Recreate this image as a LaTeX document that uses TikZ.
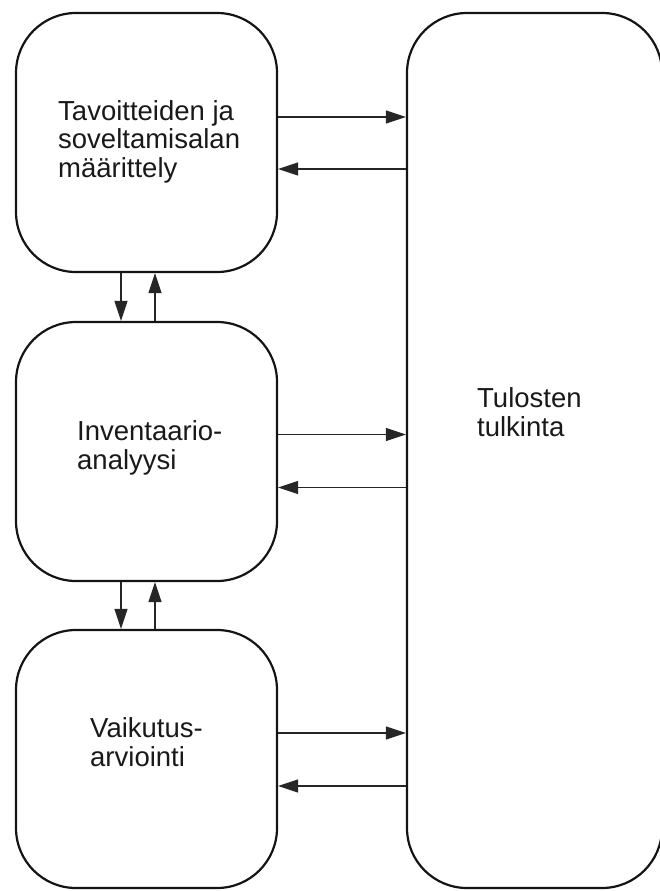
\documentclass[tikz,border=0pt]{standalone}
\usepackage{fontspec}
\setmainfont{Liberation Sans}
\usetikzlibrary{arrows.meta}
\begin{document}
\begin{tikzpicture}[x=1pt,y=-1pt,
  box/.style={draw=black!92, line width=2.2pt, rounded corners=60pt, inner sep=0pt},
  arr/.style={draw=black!85, line width=1.2pt, -{Triangle[length=20pt,width=13pt]}},
  lbl/.style={anchor=base west, inner sep=0pt, align=left, text=black!90,
    font=\fontsize{27.5}{28.5}\selectfont}]
\useasboundingbox (0,0) rectangle (660,891);
\node[box, minimum width=261pt, minimum height=259pt] (b1) at (146.5,142.5) {};
\node[box, minimum width=261pt, minimum height=259pt] (b2) at (146.5,451.5) {};
\node[box, minimum width=261pt, minimum height=258pt] (b3) at (146.5,759) {};
\node[box, minimum width=255pt, minimum height=875pt] (R) at (534.5,450.5) {};
\node[lbl] (t1) at (58,177) {Tavoitteiden ja\\soveltamisalan\\määrittely};
\node[lbl] (t2) at (77,469) {Inventaario-\\analyysi};
\node[lbl] (t3) at (90,766) {Vaikutus-\\arviointi};
\node[lbl] (t4) at (477,436) {Tulosten\\tulkinta};
% horizontal
\draw[arr] ([yshift=25.5pt]b1.east) -- ([yshift=25.5pt]b1.east -| R.west);
\draw[arr] ([yshift=-26.5pt]b1.east -| R.west) -- ([yshift=-26.5pt]b1.east);
\draw[arr] ([yshift=17pt]b2.east) -- ([yshift=17pt]b2.east -| R.west);
\draw[arr] ([yshift=-36pt]b2.east -| R.west) -- ([yshift=-36pt]b2.east);
\draw[arr] ([yshift=26pt]b3.east) -- ([yshift=26pt]b3.east -| R.west);
\draw[arr] ([yshift=-27pt]b3.east -| R.west) -- ([yshift=-27pt]b3.east);
% vertical
\draw[arr] ([xshift=-25.5pt]b1.south) -- ([xshift=-25.5pt]b1.south |- b2.north);
\draw[arr] ([xshift=8.5pt]b2.north) -- ([xshift=8.5pt]b2.north |- b1.south);
\draw[arr] ([xshift=-25.5pt]b2.south) -- ([xshift=-25.5pt]b2.south |- b3.north);
\draw[arr] ([xshift=8.5pt]b3.north) -- ([xshift=8.5pt]b3.north |- b2.south);
\end{tikzpicture}
\end{document}
